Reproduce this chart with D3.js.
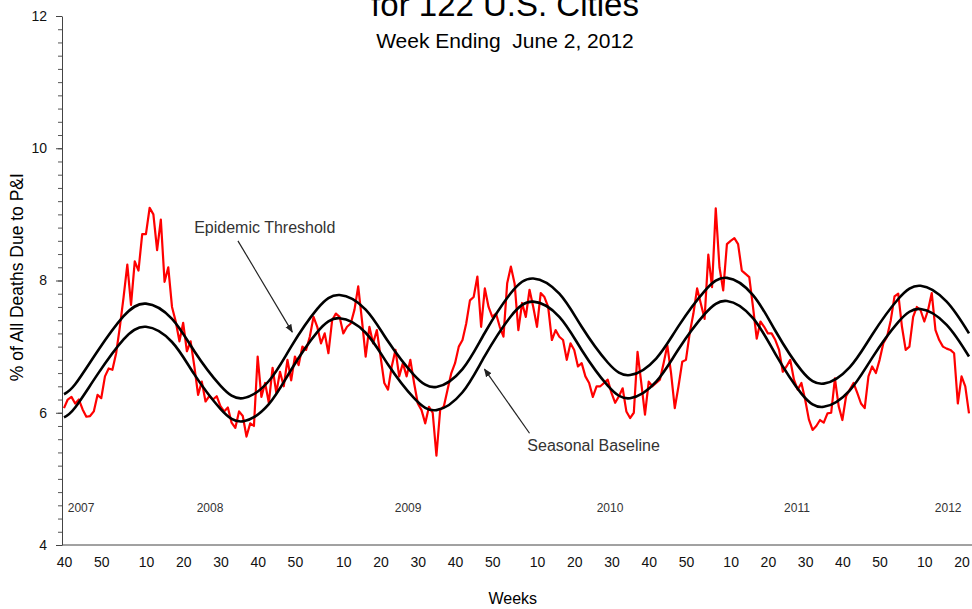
<!DOCTYPE html>
<html>
<head>
<meta charset="utf-8">
<script src="https://cdn.jsdelivr.net/npm/d3@7"></script>
<style>
  body { margin: 0; background: #fff; }
  svg { display: block; font-family: "Liberation Sans", Arial, sans-serif; }
</style>
</head>
<body>
<div class="chart"></div>
<script>
// weekly % of deaths due to P&I, week 40 of 2007 (index 0) to week 22 of 2012 (index 243)
const pniPct = [
  6.07, 6.20, 6.24, 6.14, 6.20, 6.05, 5.94, 5.95, 6.02, 6.27,
  6.22, 6.55, 6.67, 6.65, 6.90, 7.30, 7.75, 8.24, 7.63, 8.29,
  8.15, 8.70, 8.70, 9.10, 9.00, 8.46, 8.92, 7.98, 8.20, 7.60,
  7.38, 7.08, 7.36, 6.93, 7.08, 6.70, 6.27, 6.47, 6.17, 6.25,
  6.20, 6.25, 6.10, 6.02, 6.08, 5.85, 5.77, 6.02, 5.95, 5.64,
  5.84, 5.80, 6.85, 6.24, 6.45, 6.15, 6.68, 6.30, 6.62, 6.40,
  6.80, 6.49, 6.85, 6.72, 7.00, 6.95, 7.15, 7.45, 7.30, 7.05,
  7.20, 6.90, 7.40, 7.50, 7.45, 7.20, 7.30, 7.35, 7.56, 7.91,
  7.40, 6.85, 7.30, 7.05, 7.25, 6.85, 6.45, 6.35, 6.70, 6.95,
  6.55, 6.75, 6.55, 6.80, 6.45, 6.14, 6.04, 5.84, 6.09, 6.00,
  5.35, 6.04, 6.10, 6.35, 6.60, 6.75, 7.00, 7.10, 7.35, 7.70,
  7.75, 8.06, 7.30, 7.88, 7.60, 7.45, 7.50, 7.30, 7.15, 7.96,
  8.21, 7.95, 7.25, 7.66, 7.45, 7.86, 7.60, 7.30, 7.81, 7.75,
  7.60, 7.10, 7.25, 7.15, 7.10, 6.80, 7.05, 6.95, 6.70, 6.75,
  6.55, 6.45, 6.24, 6.40, 6.40, 6.45, 6.50, 6.30, 6.15, 6.25,
  6.37, 6.02, 5.92, 6.00, 6.92, 6.45, 5.97, 6.47, 6.40, 6.45,
  6.50, 6.75, 7.02, 6.60, 6.07, 6.40, 6.77, 6.80, 7.20, 7.50,
  7.88, 7.65, 7.42, 8.39, 7.90, 9.09, 8.20, 7.85, 8.55, 8.60,
  8.64, 8.55, 8.15, 8.10, 8.05, 7.60, 7.12, 7.38, 7.30, 7.20,
  7.20, 7.10, 6.95, 6.62, 6.70, 6.80, 6.50, 6.35, 6.45, 6.20,
  5.90, 5.74, 5.80, 5.89, 5.85, 5.99, 6.00, 6.52, 6.10, 5.89,
  6.25, 6.35, 6.45, 6.30, 6.14, 6.07, 6.55, 6.70, 6.60, 6.80,
  7.05, 7.15, 7.40, 7.76, 7.80, 7.30, 6.95, 7.00, 7.45, 7.60,
  7.55, 7.38, 7.55, 7.81, 7.25, 7.10, 7.00, 6.97, 6.95, 6.90,
  6.14, 6.55, 6.40, 5.99
];

const curveWeeks = [0, 3, 9, 16, 22, 29, 35, 42, 48, 55, 61, 68, 74, 81, 87, 94, 100,
  107, 113, 120, 126, 133, 139, 146, 152, 159, 165, 172, 178, 185, 191, 198, 204,
  211, 217, 224, 230, 237, 243];
const baseline = [5.93, 6.08, 6.58, 7.11, 7.30, 7.07, 6.58, 6.06, 5.87, 6.13, 6.65, 7.22, 7.43,
  7.21, 6.73, 6.22, 6.04, 6.31, 6.86, 7.46, 7.68, 7.45, 6.95, 6.41, 6.22, 6.47, 6.96,
  7.49, 7.69, 7.43, 6.89, 6.29, 6.09, 6.34, 6.83, 7.37, 7.57, 7.33, 6.85];
const threshold = [6.28, 6.43, 6.93, 7.46, 7.65, 7.42, 6.93, 6.41, 6.22, 6.48, 7.00, 7.57, 7.78,
  7.56, 7.08, 6.57, 6.39, 6.66, 7.21, 7.81, 8.03, 7.80, 7.30, 6.76, 6.57, 6.82, 7.31,
  7.84, 8.04, 7.78, 7.24, 6.64, 6.44, 6.69, 7.18, 7.72, 7.92, 7.68, 7.20];

// x axis: week numbers (index into the weekly series)
const tickWeeks = [0, 10, 22, 32, 42, 52, 62, 75, 85, 95, 105, 115, 127, 137, 147, 157, 167,
  179, 189, 199, 209, 219, 231, 241];
const tickLabels = ["40", "50", "10", "20", "30", "40", "50", "10", "20", "30", "40", "50",
  "10", "20", "30", "40", "50", "10", "20", "30", "40", "50", "10", "20"];
const yearLabels = ["2007", "2008", "2009", "2010", "2011", "2012"];
const yearWeeks = [4.6, 39.2, 92.4, 146.6, 196.8, 237.4];

const width = 972, height = 609;
const left = 62, bottom = 545;

const x = d3.scaleLinear().domain([0, 243]).range([64, 969]);
const y = d3.scaleLinear().domain([4, 12]).range([bottom, 16]);

const svg = d3
  .select(".chart")
  .append("svg")
  .attr("width", width)
  .attr("height", height);

// titles (first line is cut by the top edge, as in the source image)
svg
  .append("text")
  .attr("x", 505)
  .attr("y", 16)
  .attr("text-anchor", "middle")
  .style("font-size", "33px")
  .text("for 122 U.S. Cities");
svg
  .append("text")
  .attr("x", 505)
  .attr("y", 48)
  .attr("text-anchor", "middle")
  .style("font-size", "21px")
  .style("white-space", "pre")
  .text("Week Ending  June 2, 2012");

// y axis, minor ticks every 0.2
svg
  .append("g")
  .attr("transform", "translate(" + left + ",0)")
  .call(d3.axisLeft(y).tickValues(d3.range(4, 12.01, 0.2)).tickSize(4).tickFormat(""))
  .call((g) => g.select(".domain").remove())
  .selectAll("line")
  .attr("stroke", "#555");
const yAxis = svg
  .append("g")
  .attr("transform", "translate(" + left + ",0)")
  .call(d3.axisLeft(y).tickValues([4, 6, 8, 10, 12]).tickSize(6).tickPadding(9).tickSizeOuter(0));
yAxis.select(".domain").attr("stroke", "#444");
yAxis.selectAll("line").attr("stroke", "#444");
yAxis.selectAll("text").style("font-size", "14px").attr("fill", "#111");

// x axis: plain line with week labels
svg
  .append("line")
  .attr("x1", left)
  .attr("x2", width)
  .attr("y1", bottom)
  .attr("y2", bottom)
  .attr("stroke", "#444");
const xAxis = svg
  .append("g")
  .attr("transform", "translate(0," + bottom + ")")
  .call(
    d3.axisBottom(x)
      .tickValues(tickWeeks)
      .tickFormat((d, i) => tickLabels[i])
      .tickSize(0)
      .tickPadding(12)
  );
xAxis.select(".domain").remove();
xAxis.selectAll("text").style("font-size", "14px").attr("fill", "#111");

svg
  .selectAll(".year")
  .data(yearLabels)
  .enter()
  .append("text")
  .attr("class", "year")
  .attr("x", (d, i) => x(yearWeeks[i]))
  .attr("y", y(4.57))
  .attr("dy", "0.35em")
  .attr("text-anchor", "middle")
  .style("font-size", "12px")
  .attr("fill", "#333")
  .text((d) => d);

svg
  .append("text")
  .attr("transform", "translate(23," + y(8.05) + ") rotate(-90)")
  .attr("text-anchor", "middle")
  .style("font-size", "17.5px")
  .text("% of All Deaths Due to P&I");

svg
  .append("text")
  .attr("x", x(120.5))
  .attr("y", 604)
  .attr("text-anchor", "middle")
  .style("font-size", "16px")
  .text("Weeks");

// lines
const smooth = d3
  .line()
  .x((d, i) => x(curveWeeks[i]))
  .y((d) => y(d))
  .curve(d3.curveNatural);

svg
  .append("path")
  .datum(pniPct)
  .attr("fill", "none")
  .attr("stroke", "#f00")
  .attr("stroke-width", 2.2)
  .attr("stroke-linejoin", "round")
  .attr("d", d3.line().x((d, i) => x(i)).y((d) => y(d)));

svg
  .selectAll(".season")
  .data([baseline, threshold])
  .enter()
  .append("path")
  .attr("class", "season")
  .attr("fill", "none")
  .attr("stroke", "#000")
  .attr("stroke-width", 2.6)
  .attr("d", smooth);

// annotations
svg
  .append("defs")
  .append("marker")
  .attr("id", "head")
  .attr("viewBox", "0 0 10 10")
  .attr("refX", 9)
  .attr("refY", 5)
  .attr("markerWidth", 7)
  .attr("markerHeight", 7)
  .attr("orient", "auto")
  .append("path")
  .attr("d", "M0,1 L10,5 L0,9 Z")
  .attr("fill", "#222");

const notes = [
  { text: "Epidemic Threshold", at: [53.9, 8.8], from: [46.7, 8.6], to: [61.3, 7.22] },
  { text: "Seasonal Baseline", at: [142.2, 5.51], from: [125, 5.69], to: [112.9, 6.66] },
];
notes.forEach((n) => {
  svg
    .append("text")
    .attr("x", x(n.at[0]))
    .attr("y", y(n.at[1]))
    .attr("dy", "0.35em")
    .attr("text-anchor", "middle")
    .style("font-size", "16px")
    .attr("fill", "#333")
    .text(n.text);
  svg
    .append("line")
    .attr("x1", x(n.from[0]))
    .attr("y1", y(n.from[1]))
    .attr("x2", x(n.to[0]))
    .attr("y2", y(n.to[1]))
    .attr("stroke", "#222")
    .attr("stroke-width", 1.2)
    .attr("marker-end", "url(#head)");
});
</script>
</body>
</html>
